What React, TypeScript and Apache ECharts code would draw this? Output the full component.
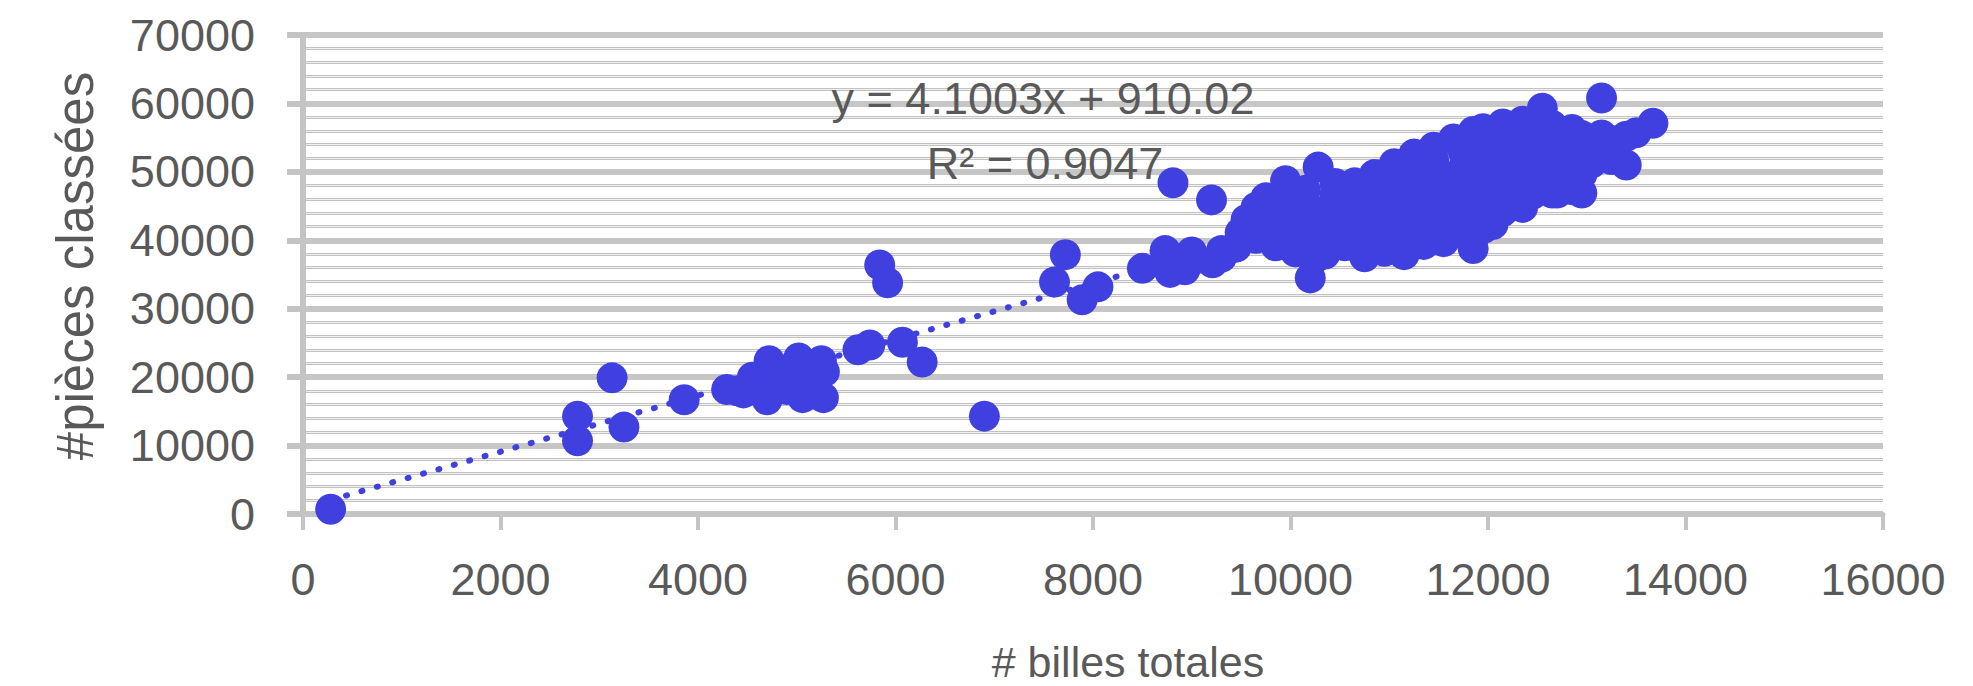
import React, { useEffect, useRef } from "react";
import * as echarts from "echarts";

// ---- Data ----
// # billes totales (x) and #pièces classées (y), paired by index
const billesTotales: number[] = [
  280, 2780, 2780, 3130, 3250, 3860,
  4290, 4400, 4460, 4550, 4600, 4720, 4700, 4800, 4830, 4900, 4980, 5020, 5060, 5100, 5150, 5200, 5250, 5270, 5280,
  5620, 5740, 5840, 5920, 6070, 6270, 6900,
  7610, 7720, 7890, 8050, 8500, 8730, 8780, 8810, 8930, 9200, 9210,
  9000, 9000, 9300, 9300, 9450, 9490, 9550, 9650, 9650, 9750, 9750, 9850, 9850,
  9950, 9950, 9950, 9950, 10050, 10050, 10150, 10150, 10150, 10200, 10280, 10250, 10250,
  10350, 10350, 10350, 10450, 10450, 10450, 10550, 10550, 10650, 10650, 10650,
  10750, 10750, 10750, 10850, 10850, 10850, 10950, 10950, 10950,
  11050, 11050, 11050, 11150, 11150, 11150, 11150, 11250, 11250, 11250,
  11350, 11350, 11350, 11450, 11450, 11450, 11450, 11550, 11550, 11550,
  11650, 11650, 11650, 11750, 11750, 11750, 11750, 11850, 11850, 11850,
  11950, 11950, 11950, 11950, 11950, 12050, 12050, 12050, 12050,
  12150, 12150, 12150, 12150, 12250, 12250, 12250, 12250, 12350, 12350, 12350, 12350,
  12450, 12450, 12450, 12450, 12550, 12550, 12550, 12550, 12650, 12650, 12650, 12650,
  12700, 12750, 12750, 12750, 12850, 12850, 12850, 12850, 12950, 12950, 12950, 12950,
  13050, 13050, 13150, 13150, 13150, 13250, 13250, 13400, 13400, 13500, 13670,
];
const piecesClassees: number[] = [
  700, 14300, 10700, 19900, 12700, 16700,
  18200, 18000, 17700, 20000, 19200, 22400, 16700, 19400, 20300, 18200, 21800, 22800, 17000, 19700, 20200, 18400, 22400, 17000, 20800,
  24000, 24700, 36400, 33800, 25100, 22200, 14300,
  33900, 37900, 31300, 33200, 35900, 38500, 35300, 48400, 35700, 45900, 36700,
  37000, 38300, 37500, 38500, 39000, 41100, 43000, 40300, 44800, 42300, 46200, 39200, 44300,
  41200, 47600, 48700, 45600, 38300, 43000, 40300, 45200, 47300, 34500, 50700, 42200, 37400,
  38000, 44300, 39500, 41700, 46600, 48300, 39200, 43700, 41500, 45600, 48400,
  37600, 43200, 47700, 39600, 45200, 49600, 38400, 41800, 47100,
  43800, 49300, 51200, 37900, 40600, 45600, 47900, 42600, 50600, 52600,
  39400, 44600, 48200, 41200, 46600, 51700, 53600, 39800, 43300, 49200,
  45200, 47600, 54800, 40900, 43900, 50600, 52900, 38800, 46700, 55900,
  41700, 44800, 49400, 53400, 56300, 42300, 47200, 51600, 55100,
  44200, 49900, 53600, 57000, 45700, 48200, 52200, 56200, 44800, 50900, 54700, 57400,
  46700, 49100, 53100, 56600, 47800, 51700, 55300, 59300, 46900, 50300, 53900, 56800,
  46900, 48600, 52400, 55600, 47400, 50600, 54100, 56200, 46900, 49600, 53200, 55300,
  51300, 54700, 60800, 52700, 55400, 51800, 54600, 51000, 55200, 55700, 57100,
];

// Linear trendline shown on the chart
const trendSlope = 4.1003;
const trendIntercept = 910.02;
const equationLabel = "y = 4.1003x + 910.02";
const r2Label = "R\u00B2 = 0.9047";

const xAxisTitle = "# billes totales";
const yAxisTitle = "#pi\u00E8ces class\u00E9es";

const xMin = 0, xMax = 16000, xStep = 2000;
const yMin = 0, yMax = 70000, yStep = 10000, yMinorStep = 2000;

const FONT = "'Liberation Sans', Arial, sans-serif";
const TEXT = "#595959";
const AXIS = "#c4c4c4";
const BLUE = "#4040e0";

export default function App() {
  const ref = useRef<HTMLDivElement>(null);

  useEffect(() => {
    if (!ref.current) return;
    const chart = echarts.init(ref.current, undefined, { renderer: "svg" });

    const points = billesTotales.map((x, i) => [x, piecesClassees[i]]);
    const tx0 = Math.min(...billesTotales);
    const tx1 = Math.max(...billesTotales);
    const trend = [
      [tx0, trendSlope * tx0 + trendIntercept],
      [tx1, trendSlope * tx1 + trendIntercept],
    ];

    const plain = (v: number) => String(v);

    const hiddenY = (interval: number, color: string, width: number, z: number) => ({
      type: "value",
      min: yMin,
      max: yMax,
      interval,
      z,
      axisLine: { show: false },
      axisTick: { show: false },
      axisLabel: { show: false },
      splitLine: { show: true, lineStyle: { color, width } },
    });

    chart.setOption({
      animation: false,
      backgroundColor: "#ffffff",
      grid: { left: 303, right: 90, top: 35, bottom: 172, containLabel: false },
      xAxis: {
        type: "value",
        min: xMin,
        max: xMax,
        interval: xStep,
        z: 3,
        axisLine: { show: true, lineStyle: { color: AXIS, width: 5 } },
        axisTick: { show: true, length: 16, lineStyle: { color: AXIS, width: 4 } },
        axisLabel: { margin: 43, fontSize: 45, fontFamily: FONT, color: TEXT, formatter: plain },
        splitLine: { show: false },
      },
      yAxis: [
        {
          type: "value",
          min: yMin,
          max: yMax,
          interval: yStep,
          z: 3,
          axisLine: { show: true, lineStyle: { color: AXIS, width: 6 } },
          axisTick: { show: true, length: 16, lineStyle: { color: AXIS, width: 6 } },
          axisLabel: { margin: 48, fontSize: 45, fontFamily: FONT, color: TEXT, formatter: plain },
          splitLine: { show: false },
        },
        hiddenY(yMinorStep, "#c2c2c2", 3, 0),
        hiddenY(yMinorStep, "#f0f0f0", 1, 1),
        hiddenY(yStep, "#c6c6c6", 6, 2),
      ],
      series: [
        {
          type: "line",
          data: trend,
          xAxisIndex: 0,
          yAxisIndex: 0,
          symbol: "none",
          silent: true,
          z: 4,
          lineStyle: { color: BLUE, width: 6, type: [1, 15], cap: "round" },
        },
        {
          type: "scatter",
          data: points,
          xAxisIndex: 0,
          yAxisIndex: 0,
          symbol: "circle",
          symbolSize: 31,
          z: 5,
          itemStyle: { color: BLUE, opacity: 1 },
        },
      ],
      graphic: [
        {
          type: "text",
          x: 1043,
          y: 98,
          z: 10,
          style: { text: equationLabel, fill: TEXT, fontSize: 45, fontFamily: FONT, align: "center", verticalAlign: "middle" },
        },
        {
          type: "text",
          x: 1045,
          y: 163,
          z: 10,
          style: { text: r2Label, fill: TEXT, fontSize: 45, fontFamily: FONT, align: "center", verticalAlign: "middle" },
        },
        {
          type: "text",
          x: 1128,
          y: 662,
          style: { text: xAxisTitle, fill: TEXT, fontSize: 43, fontFamily: FONT, align: "center", verticalAlign: "middle" },
        },
        {
          type: "text",
          x: 75,
          y: 266,
          rotation: Math.PI / 2,
          style: { text: yAxisTitle, fill: TEXT, fontSize: 51, fontFamily: FONT, align: "center", verticalAlign: "middle" },
        },
      ],
    });

    return () => chart.dispose();
  }, []);

  return (
    <div
      ref={ref}
      style={{ position: "absolute", left: 0, top: 0, width: 1973, height: 686, background: "#fff" }}
    />
  );
}
